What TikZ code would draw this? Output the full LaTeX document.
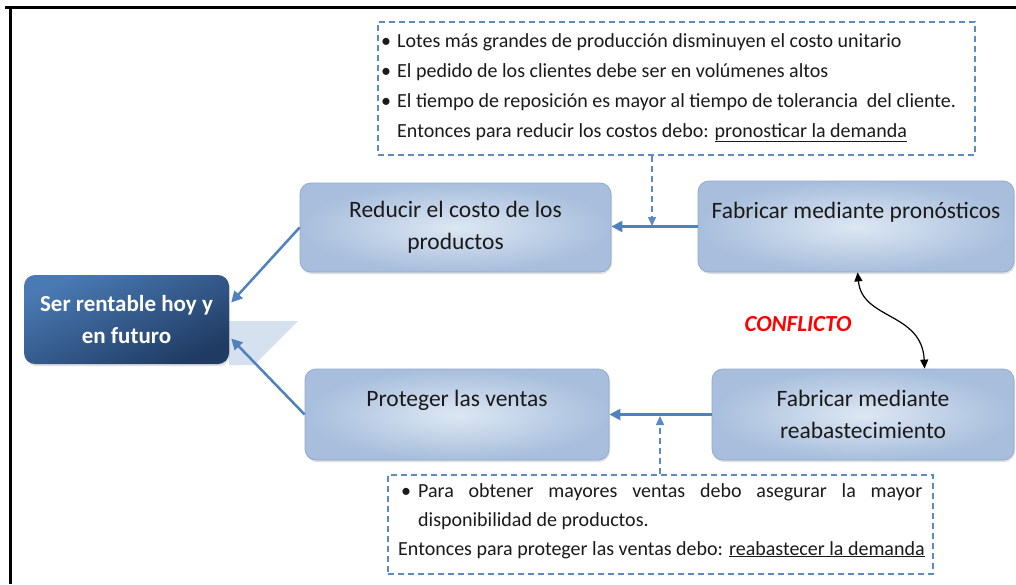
\documentclass[tikz,border=0pt]{standalone}
\usepackage{fontspec}
\setmainfont{Carlito}
\usetikzlibrary{arrows.meta,shadows,calc}
\definecolor{boxedge}{HTML}{8FABD0}
\definecolor{boxin}{HTML}{DDE7F3}
\definecolor{boxout}{HTML}{A8BEDC}
\definecolor{darktop}{HTML}{4A7AB4}
\definecolor{darkbot}{HTML}{1F3B63}
\definecolor{arrowblue}{HTML}{4F81BD}
\definecolor{dashblue}{HTML}{5B8AC6}
\definecolor{ghost}{HTML}{D6E1EF}
\definecolor{txtdark}{HTML}{1A1A1A}
\tikzset{
  lightbox/.style={draw=boxedge, line width=0.8pt, rounded corners=11pt,
    inner color=boxin, outer color=boxout,
    drop shadow={shadow xshift=1pt, shadow yshift=-2pt, opacity=0.25},
    text=txtdark, align=center, font=\fontsize{23.5}{32}\selectfont},
  darkbox/.style={rounded corners=11pt, shading=axis, top color=darktop, bottom color=darkbot,
    shading angle=25, text=white, align=center,
    font=\bfseries\fontsize{23}{32}\selectfont,
    drop shadow={shadow xshift=1pt, shadow yshift=-2pt, opacity=0.25}},
  notebox/.style={draw=dashblue, line width=1.5pt, dash pattern=on 6pt off 4pt},
  note/.style={inner sep=0pt, anchor=base west, text=txtdark, font=\fontsize{20}{29}\selectfont},
  mainarrow/.style={draw=arrowblue, line width=2.5pt, -{Triangle[length=11pt,width=11pt]}},
  dasharrow/.style={draw=dashblue, line width=1.5pt, dash pattern=on 6pt off 4pt,
    -{Triangle[length=9pt,width=8pt]}},
}
\begin{document}
\begin{tikzpicture}[x=1pt,y=-1pt]
\useasboundingbox (0,0) rectangle (1016,584);
\fill[white] (0,0) rectangle (1016,584);
% frame
\draw[line width=3pt] (5,7) -- (1016,7);
\draw[line width=3pt] (10,7) -- (10,584);

% top note box
\node[notebox, minimum width=597pt, minimum height=133pt, inner sep=0pt] (topnote) at (676.5,88.5) {};
\node[note] (tb1) at (381,47) {\textbullet};
\node[note] (tl1) at (397,47) {Lotes más grandes de producción disminuyen el costo unitario};
\node[note] (tb2) at (381,77) {\textbullet};
\node[note] (tl2) at (397,77) {El pedido de los clientes debe ser en volúmenes altos};
\node[note] (tb3) at (381,107) {\textbullet};
\node[note] (tl3) at (397,107) {El tiempo de reposición es mayor al tiempo de tolerancia\ \ del cliente.};
\node[note] (tl4) at (397,137) {Entonces para reducir los costos debo: \underline{pronosticar la demanda}};

% bottom note box
\node[notebox, minimum width=545pt, minimum height=99pt, inner sep=0pt] (botnote) at (660.5,524.5) {};
\node[note] (bb1) at (401,497) {\textbullet};
\node[note, anchor=north west] (bl1) at (418,483) {\parbox[t]{504pt}{\fontsize{20}{29}\selectfont
  Para obtener mayores ventas debo asegurar la mayor\linebreak disponibilidad de productos.}};
\node[note] (bl3) at (398,555) {Entonces para proteger las ventas debo: \underline{reabastecer la demanda}};

% ghost shape
\fill[ghost] (229,321) -- (298,321) -- (254,365) -- (229,365) -- cycle;

% main nodes
\node[darkbox, minimum width=205pt, minimum height=89pt] (ser) at (126.5,319.5)
  {Ser rentable hoy y\\en futuro};
\node[lightbox, minimum width=311pt, minimum height=89pt] (red) at (455.5,227.5)
  {Reducir el costo de los\\productos};
\node[lightbox, minimum width=316pt, minimum height=91pt] (fab1) at (856,226.5)
  {Fabricar mediante pronósticos\\\mbox{}};
\node[lightbox, minimum width=304pt, minimum height=91pt] (prot) at (457,414.5)
  {Proteger las ventas\\\mbox{}};
\node[lightbox, minimum width=302pt, minimum height=91pt] (fab2) at (863,414.5)
  {Fabricar mediante\\reabastecimiento};

% arrows
\draw[mainarrow] (fab1.west) -- (fab1.west -| red.east);
\draw[mainarrow] (fab2.west) -- (fab2.west -| prot.east);
\draw[mainarrow] (red.west) -- ([yshift=17pt,xshift=2pt]ser.east);
\draw[mainarrow] (prot.west) -- ([yshift=-19pt,xshift=2pt]ser.east);

\coordinate (j1) at (652,226);
\coordinate (j2) at (660,416);
\draw[dasharrow] (topnote.south -| j1) -- (j1);
\draw[dasharrow] (botnote.north -| j2) -- (j2);

% conflict
\node[text=red, font=\bfseries\itshape\fontsize{23}{26}\selectfont] (conf) at (798,324) {CONFLICTO};
\draw[black, line width=1.2pt, {Triangle[length=9pt,width=8pt]}-{Triangle[length=9pt,width=8pt]}]
  ([xshift=160pt]fab1.south west) .. controls (862,320) and (922,312) .. ([xshift=213pt]fab2.north west);
\end{tikzpicture}
\end{document}
